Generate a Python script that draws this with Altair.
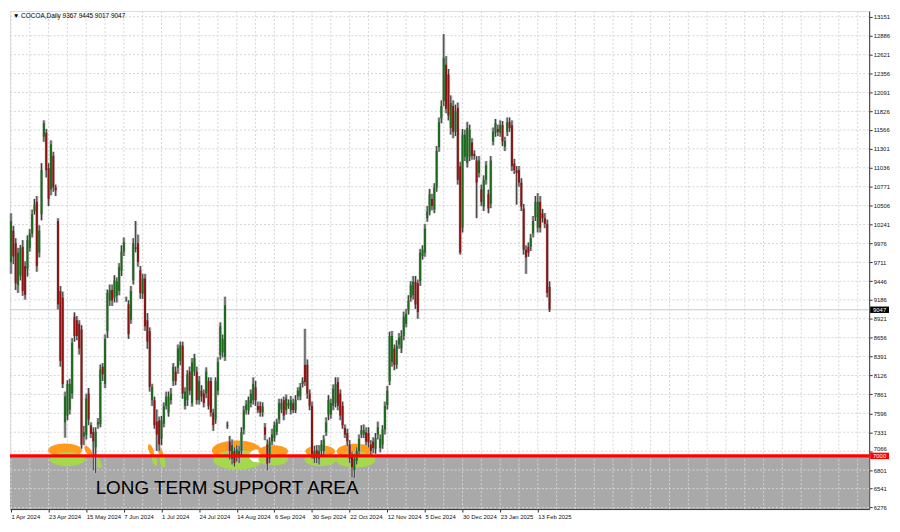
import json
import numpy as np
import pandas as pd
import altair as alt

# ---------------- data ----------------
OPEN = [9713, 10156, 9982, 9391, 9525, 9928, 9659, 9619, 9914, 10116, 10425, 10559, 9847, 10384, 11472, 11526, 11029, 10734, 11204, 10760,
        10290, 9310, 9216, 7471, 7565, 7645, 7873, 8948, 8900, 8850, 8773, 7270, 7296, 7873, 7430, 7336, 7120, 7440, 7444, 8250,
        8007, 8746, 9176, 9323, 9216, 9243, 9310, 9592, 9860, 9190, 9122, 8907, 9458, 9920, 9982, 9600, 9270, 9485, 8900, 8746,
        7780, 7780, 7480, 7497, 7240, 7450, 7700, 7605, 7780, 8048, 8182, 8236, 8330, 8545, 7700, 7780, 8182, 7739,
        8182, 8182, 7780, 7914, 7873, 7873, 8048, 8048, 7605, 7510, 7914, 8410, 8450, 8384, 7420, 7202, 6960, 7067, 6990, 6980,
        7067, 7370, 7640, 7640, 7739, 7780, 7960, 7700, 7700, 7610, 7400, 7160, 6960, 7200, 7250, 7336, 7510, 7650, 7780, 7640,
        7700, 7640, 7739, 7640, 7833, 7833, 8007, 8276, 8276, 7873, 7700, 6960, 7080, 6960, 7067, 7067, 7330, 7580, 7580, 7700,
        7739, 8035, 7873, 7700, 7390, 7320, 7160, 7000, 6800, 6930, 7067, 7300, 7300, 7330, 7320, 7160, 7202, 7100, 7296, 7110,
        7160, 7370,
        7712, 8048, 8317, 8505, 8276, 8560, 8505, 8679, 8850, 9036, 9216, 9250, 9440, 9418, 9445, 9800, 9847, 10331, 10425, 10600,
        10452, 10760, 11325, 11728, 11969, 12480, 12345, 11593, 11902, 11540, 11875, 11056, 10196, 11190, 11100, 11190, 11391, 11230, 11137, 10962,
        10734, 10492, 10868, 10667, 10532, 11405, 11526, 11580, 11526, 11633, 11330, 11540, 11674, 11633, 11096, 11002, 11002, 10828, 10465, 9888,
        9928, 9928, 10116, 10344, 10196, 10559, 10398, 10331, 10250, 9367]
HIGH = [10398, 10223, 10049, 9914, 9955, 10022, 9726, 10089, 10180, 10450, 10600, 10640, 10230, 11100, 11700, 11580, 11100, 11420, 11260, 10800,
        10330, 9380, 9300, 7900, 8060, 8080, 8650, 9010, 8960, 8900, 8830, 7420, 7870, 7950, 7470, 7400, 7400, 7530, 8280, 8300,
        8700, 9330, 9400, 9400, 9530, 9500, 9700, 9950, 10060, 9230, 9180, 9380, 10050, 10290, 10100, 9660, 9550, 9550, 9000, 8800,
        8010, 7830, 7650, 7550, 7560, 7750, 7900, 7900, 7950, 8300, 8250, 8560, 8600, 8600, 7960, 8200, 8250, 8370,
        8430, 8250, 8120, 7990, 7930, 8240, 8100, 8100, 7660, 8100, 8380, 8870, 8700, 9230, 7480, 7280, 7230, 7120, 7150, 7140,
        7400, 7700, 7780, 7830, 7930, 8100, 8050, 7760, 7760, 7750, 7460, 7230, 7260, 7380, 7480, 7520, 7800, 7800, 7830, 7860,
        7790, 7840, 7800, 7850, 7960, 8020, 8100, 8780, 8350, 7930, 7760, 7140, 7150, 7150, 7220, 7290, 7540, 7850, 7800, 8000,
        8100, 8100, 7930, 7760, 7440, 7380, 7220, 7060, 7030, 7120, 7300, 7430, 7440, 7400, 7400, 7220, 7260, 7320, 7480, 7300,
        7430, 7760,
        7980, 8740, 8750, 8560, 8620, 8720, 8760, 9020, 9060, 9250, 9450, 9520, 9520, 9470, 9900, 9950, 10250, 10500, 10740, 10670,
        10820, 11340, 11740, 11980, 12910, 12600, 12420, 12050, 11980, 11920, 11950, 11120, 11580, 11570, 11680, 11640, 11450, 11280, 11200, 11200,
        10800, 10930, 11130, 10730, 11200, 11600, 11720, 11640, 11700, 11690, 11470, 11740, 11740, 11700, 11160, 11060, 11060, 10890, 10530, 9950,
        9990, 10110, 10360, 10640, 10680, 10640, 10460, 10400, 10310, 9445]
LOW = [9552, 9686, 9323, 9283, 9458, 9243, 9189, 9512, 9860, 10060, 10380, 9580, 9780, 10300, 11400, 10900, 10500, 10650, 10700, 10640,
       9050, 8250, 7950, 7255, 7500, 7580, 7800, 8600, 8620, 8420, 7100, 7150, 7230, 7430, 7250, 6800, 6760, 7380, 7400, 8050,
       7950, 8650, 9100, 9100, 9150, 9150, 9250, 9520, 9800, 9160, 8640, 8850, 9400, 9850, 9650, 9200, 9200, 8750, 8500, 7900,
       7700, 7380, 7070, 7070, 7150, 7400, 7650, 7550, 7720, 7980, 7990, 8150, 8270, 7800, 7650, 7700, 7850, 7690,
       8120, 7720, 7720, 7760, 7680, 7810, 7650, 7550, 7350, 7450, 7850, 8350, 8380, 8330, 7380, 6950, 6880, 6850, 6920, 6900,
       7000, 7300, 7580, 7580, 7680, 7720, 7700, 7600, 7550, 7550, 7220, 6800, 6900, 7150, 7200, 7290, 7450, 7600, 7500, 7580,
       7660, 7580, 7600, 7600, 7780, 7780, 7960, 7980, 7800, 7640, 6960, 6900, 6900, 6880, 7000, 6990, 7280, 7500, 7520, 7640,
       7680, 7640, 7500, 7380, 7250, 7140, 6900, 6700, 6690, 6880, 7000, 7250, 7250, 7150, 7120, 7000, 7040, 7030, 7230, 7050,
       7100, 7300,
       7650, 7990, 8250, 8200, 8220, 8500, 8440, 8620, 8800, 8980, 9160, 9190, 9060, 8920, 9380, 9750, 9790, 10280, 10370, 10440,
       10400, 10700, 11260, 11660, 11900, 11800, 11700, 11500, 11450, 11480, 10800, 9820, 10130, 11130, 11040, 11130, 11150, 11150, 10330, 10900,
       10500, 10430, 10800, 10400, 10470, 11350, 11470, 11480, 11470, 11340, 11270, 11480, 11540, 10990, 10950, 10520, 10770, 10430, 9820, 9550,
       9790, 9870, 10060, 10290, 10130, 10130, 10270, 10190, 9220, 9017]
CLOSE = [10290, 9794, 9418, 9847, 9914, 9310, 9256, 10022, 10116, 10384, 10519, 9659, 10156, 11002, 11660, 11002, 10600, 11365, 10760, 10720,
         9122, 8330, 8007, 7833, 8007, 8007, 8585, 8679, 8679, 8505, 7157, 7330, 7806, 7510, 7310, 7202, 7336, 7470, 8209, 8142,
         8639, 9283, 9323, 9176, 9458, 9445, 9646, 9860, 9995, 9195, 8706, 9310, 9982, 9900, 9713, 9283, 9485, 8813, 8600, 7967,
         7967, 7430, 7300, 7160, 7497, 7700, 7830, 7830, 7873, 8250, 8048, 8505, 8545, 7873, 7900, 8142, 7914, 8310,
         8370, 7780, 8048, 7833, 7739, 8182, 7700, 7605, 7430, 8048, 8317, 8813, 8639, 9109, 7430, 7067, 7150, 6900, 7090, 7067,
         7336, 7640, 7720, 7780, 7873, 8007, 7780, 7640, 7605, 7690, 7296, 6890, 7200, 7300, 7430, 7470, 7739, 7739, 7565, 7806,
         7739, 7780, 7640, 7780, 7914, 7967, 8048, 8035, 7873, 7700, 7027, 7067, 6980, 7067, 7160, 7230, 7470, 7780, 7739, 7940,
         8007, 7700, 7565, 7430, 7300, 7202, 6960, 6840, 6960, 7067, 7240, 7360, 7360, 7200, 7190, 7070, 7110, 7250, 7400, 7240,
         7370, 7700,
         7914, 8679, 8679, 8276, 8545, 8660, 8679, 8948, 8988, 9176, 9391, 9440, 9122, 9015, 9847, 9888, 10183, 10425, 10667, 10500,
         10760, 11271, 11674, 11902, 12574, 11862, 11768, 11942, 11540, 11835, 10868, 9847, 11499, 11499, 11593, 11566, 11204, 11200, 10828, 11137,
         10559, 10868, 11070, 10465, 11137, 11539, 11660, 11540, 11633, 11405, 11410, 11674, 11593, 11056, 11002, 10962, 10828, 10492, 9888, 9780,
         9847, 10049, 10290, 10559, 10559, 10196, 10331, 10250, 9283, 9047]

DATE_LABELS = ["1 Apr 2024", "23 Apr 2024", "15 May 2024", "7 Jun 2024", "1 Jul 2024", "24 Jul 2024",
               "14 Aug 2024", "6 Sep 2024", "30 Sep 2024", "22 Oct 2024", "12 Nov 2024", "5 Dec 2024",
               "30 Dec 2024", "23 Jan 2025", "13 Feb 2025"]
BARS_PER_LABEL = 16
BARS_PER_GRID = 8
Y_TICKS = [6276, 6541, 6801, 7066, 7331, 7596, 7861, 8126, 8391, 8656, 8921, 9186, 9446, 9711,
           9976, 10241, 10506, 10771, 11036, 11301, 11566, 11826, 12091, 12356, 12621, 12886, 13151]
SUPPORT = 7000
LAST_PRICE = 9047
HEADER = "\u25bc COCOA,Daily  9367 9445 9017 9047"
ANNOTATION = "LONG TERM SUPPORT AREA"
ANNOT_POS = (36, 6463)

# highlight ellipses near the support line (bar index, price)
ELL_IDX = [23, 24, 33, 36.5, 59.5, 63.5, 61, 64.5, 96, 96.5, 104.5, 111.5, 111.5, 131.5, 131.5, 146.5, 146.5]
ELL_PRICE = [7080, 6955, 7065, 6925, 7085, 7060, 6945, 6925, 7075, 6945, 7000, 7065, 6950, 7065, 6945, 7065, 6945]
ELL_KIND = ["o", "g", "o", "g", "o", "o", "g", "g", "o", "g", "w", "o", "g", "o", "g", "o", "g"]

# ---------------- styles ----------------
ELL_WIDTH = [34, 36, 13, 16, 12, 11, 12, 13, 50, 50, 15, 30, 30, 30, 32, 38, 40]
ELL_ANGLE = [0, 0, 55, 60, 70, 65, 75, 80, 0, 0, 0, 0, 0, 0, 0, 0, 0]
KIND_COLOR = {"o": "#ff9a1c", "g": "#a6d84c", "w": "#ffffff"}
ELL_PATH = "M-1,0A1,0.4,0,1,0,1,0A1,0.4,0,1,0,-1,0Z"
ROUND_PATH = "M-1,0A1,0.85,0,1,0,1,0A1,0.85,0,1,0,-1,0Z"
BOX_PATH = "M-1,-0.34L1,-0.34L1,0.34L-1,0.34Z"
FONT = "Liberation Sans"

W, H = 866, 502
XMIN, XMAX = -0.42, 364.9
YMIN, YMAX = 6255, 13232

n = len(CLOSE)
df = pd.DataFrame({"i": np.arange(n), "open": OPEN, "high": HIGH, "low": LOW, "close": CLOSE})
df["dir"] = np.where(df["close"] >= df["open"], "up", "down")

xs = alt.Scale(domain=[XMIN, XMAX], nice=False, zero=False)
ys = alt.Scale(domain=[YMIN, YMAX], nice=False, zero=False)

label_expr = f"{json.dumps(DATE_LABELS)}[round(datum.value / {BARS_PER_LABEL})]"
XA = alt.Axis(values=list(range(0, BARS_PER_LABEL * len(DATE_LABELS), BARS_PER_LABEL)), labelExpr=label_expr,
              labelAlign="left", labelFontSize=6, labelPadding=2, tickSize=3, grid=False,
              domainColor="#333", tickColor="#333", labelColor="#111", labelFont=FONT, title=None,
              labelOverlap=False, labelFlush=False)
# the tick label just above the support box sits on its tick rather than centred on it
YA = alt.Axis(orient="right", values=Y_TICKS, format="d", labelFontSize=6, labelPadding=1, tickSize=3,
              grid=False, domainColor="#333", tickColor="#333", labelColor="#111", labelFont=FONT,
              title=None, labelOverlap=False, labelFlush=False,
              labelBaseline={"condition": {"test": f"datum.value > {SUPPORT} && datum.value < {SUPPORT + 100}",
                                           "value": "bottom"}, "value": "middle"})


def X(field):
    return alt.X(field, scale=xs, axis=XA)


def Y(field):
    return alt.Y(field, scale=ys, axis=YA)


# gray support area
area_df = pd.DataFrame({"x": [XMIN], "x2": [XMAX], "y": [SUPPORT], "y2": [YMIN]})
area = alt.Chart(area_df).mark_rect(color="#a9a9a9").encode(x=X("x:Q"), x2="x2:Q", y=Y("y:Q"), y2="y2:Q")

vgrid_df = pd.DataFrame({"i": list(range(0, int(XMAX), BARS_PER_GRID))})
vgrid = alt.Chart(vgrid_df).mark_rule(color="#d4d4d4", strokeWidth=1, strokeDash=[2, 2]).encode(
    x=X("i:Q"), y=alt.value(0), y2=alt.value(H))
hgrid_df = pd.DataFrame({"p": Y_TICKS})
hgrid = alt.Chart(hgrid_df).mark_rule(color="#d4d4d4", strokeWidth=1, strokeDash=[2, 2]).encode(
    y=Y("p:Q"), x=alt.value(0), x2=alt.value(W))

ell_df = pd.DataFrame({"i": ELL_IDX, "p": ELL_PRICE, "k": ELL_KIND})
ell_df["s"] = [w * w for w in ELL_WIDTH]
ell_df["a"] = ELL_ANGLE
ell_df["c"] = [KIND_COLOR[k] for k in ELL_KIND]
ell_df["shape"] = [ROUND_PATH if k == "w" else ELL_PATH for k in ELL_KIND]
ell_df["order"] = range(len(ell_df))
ellipses = alt.Chart(ell_df).mark_point(filled=True, opacity=1, strokeWidth=0).encode(
    x=X("i:Q"), y=Y("p:Q"),
    size=alt.Size("s:Q", scale=None), angle=alt.Angle("a:Q", scale=None),
    color=alt.Color("c:N", scale=None), shape=alt.Shape("shape:N", scale=None),
    order=alt.Order("order:Q"))

bid_df = pd.DataFrame({"p": [LAST_PRICE]})
bid = alt.Chart(bid_df).mark_rule(color="#c8c8c8", strokeWidth=1).encode(
    y=Y("p:Q"), x=alt.value(0), x2=alt.value(W))

base = alt.Chart(df)
halo = base.mark_rule(color="#b8b8b8", strokeWidth=3).encode(x=X("i:Q"), y=Y("low:Q"), y2="high:Q")
wick = base.mark_rule(color="#3a3a3a", strokeWidth=1).encode(x=X("i:Q"), y=Y("low:Q"), y2="high:Q")
body = base.mark_rule(strokeWidth=2, strokeCap="butt").encode(
    x=X("i:Q"), y=Y("open:Q"), y2="close:Q",
    color=alt.Color("dir:N", scale=alt.Scale(domain=["up", "down"], range=["#1c6a1c", "#8e1414"]), legend=None))

sup_df = pd.DataFrame({"p": [SUPPORT]})
sup_line = alt.Chart(sup_df).mark_rule(color="#ff0000", strokeWidth=3.5).encode(
    y=Y("p:Q"), x=alt.value(0), x2=alt.value(W))

ann_df = pd.DataFrame({"i": [ANNOT_POS[0]], "p": [ANNOT_POS[1]], "t": [ANNOTATION]})
ann = alt.Chart(ann_df).mark_text(align="left", baseline="alphabetic", fontSize=19, font=FONT, color="#000").encode(
    x=X("i:Q"), y=Y("p:Q"), text="t:N")

head_df = pd.DataFrame({"t": [HEADER]})
head = alt.Chart(head_df).mark_text(align="left", baseline="middle", fontSize=6.5, font=FONT, color="#000").encode(
    x=alt.value(3), y=alt.value(5), text="t:N")

box_df = pd.DataFrame({"p": [LAST_PRICE, SUPPORT], "t": [str(LAST_PRICE), str(SUPPORT)], "c": ["#000000", "#ff0000"]})
boxes = alt.Chart(box_df).mark_point(shape=BOX_PATH, size=19 * 19, filled=True, opacity=1, strokeWidth=0).encode(
    x=alt.value(W + 10.5), y=Y("p:Q"), color=alt.Color("c:N", scale=None))
box_txt = alt.Chart(box_df).mark_text(align="center", baseline="middle", fontSize=6, font=FONT, color="#ffffff").encode(
    x=alt.value(W + 10.5), y=Y("p:Q"), text="t:N")

chart = alt.layer(area, vgrid, hgrid, ellipses, bid, halo, wick, body, sup_line, ann, head, boxes, box_txt).properties(
    width=W, height=H, padding={"left": 0, "top": 0, "right": 2, "bottom": 0}
).configure_view(stroke="#555", strokeWidth=1).configure(background="#ffffff")

chart.save("out.html", embed_options={"renderer": "svg", "actions": False})
